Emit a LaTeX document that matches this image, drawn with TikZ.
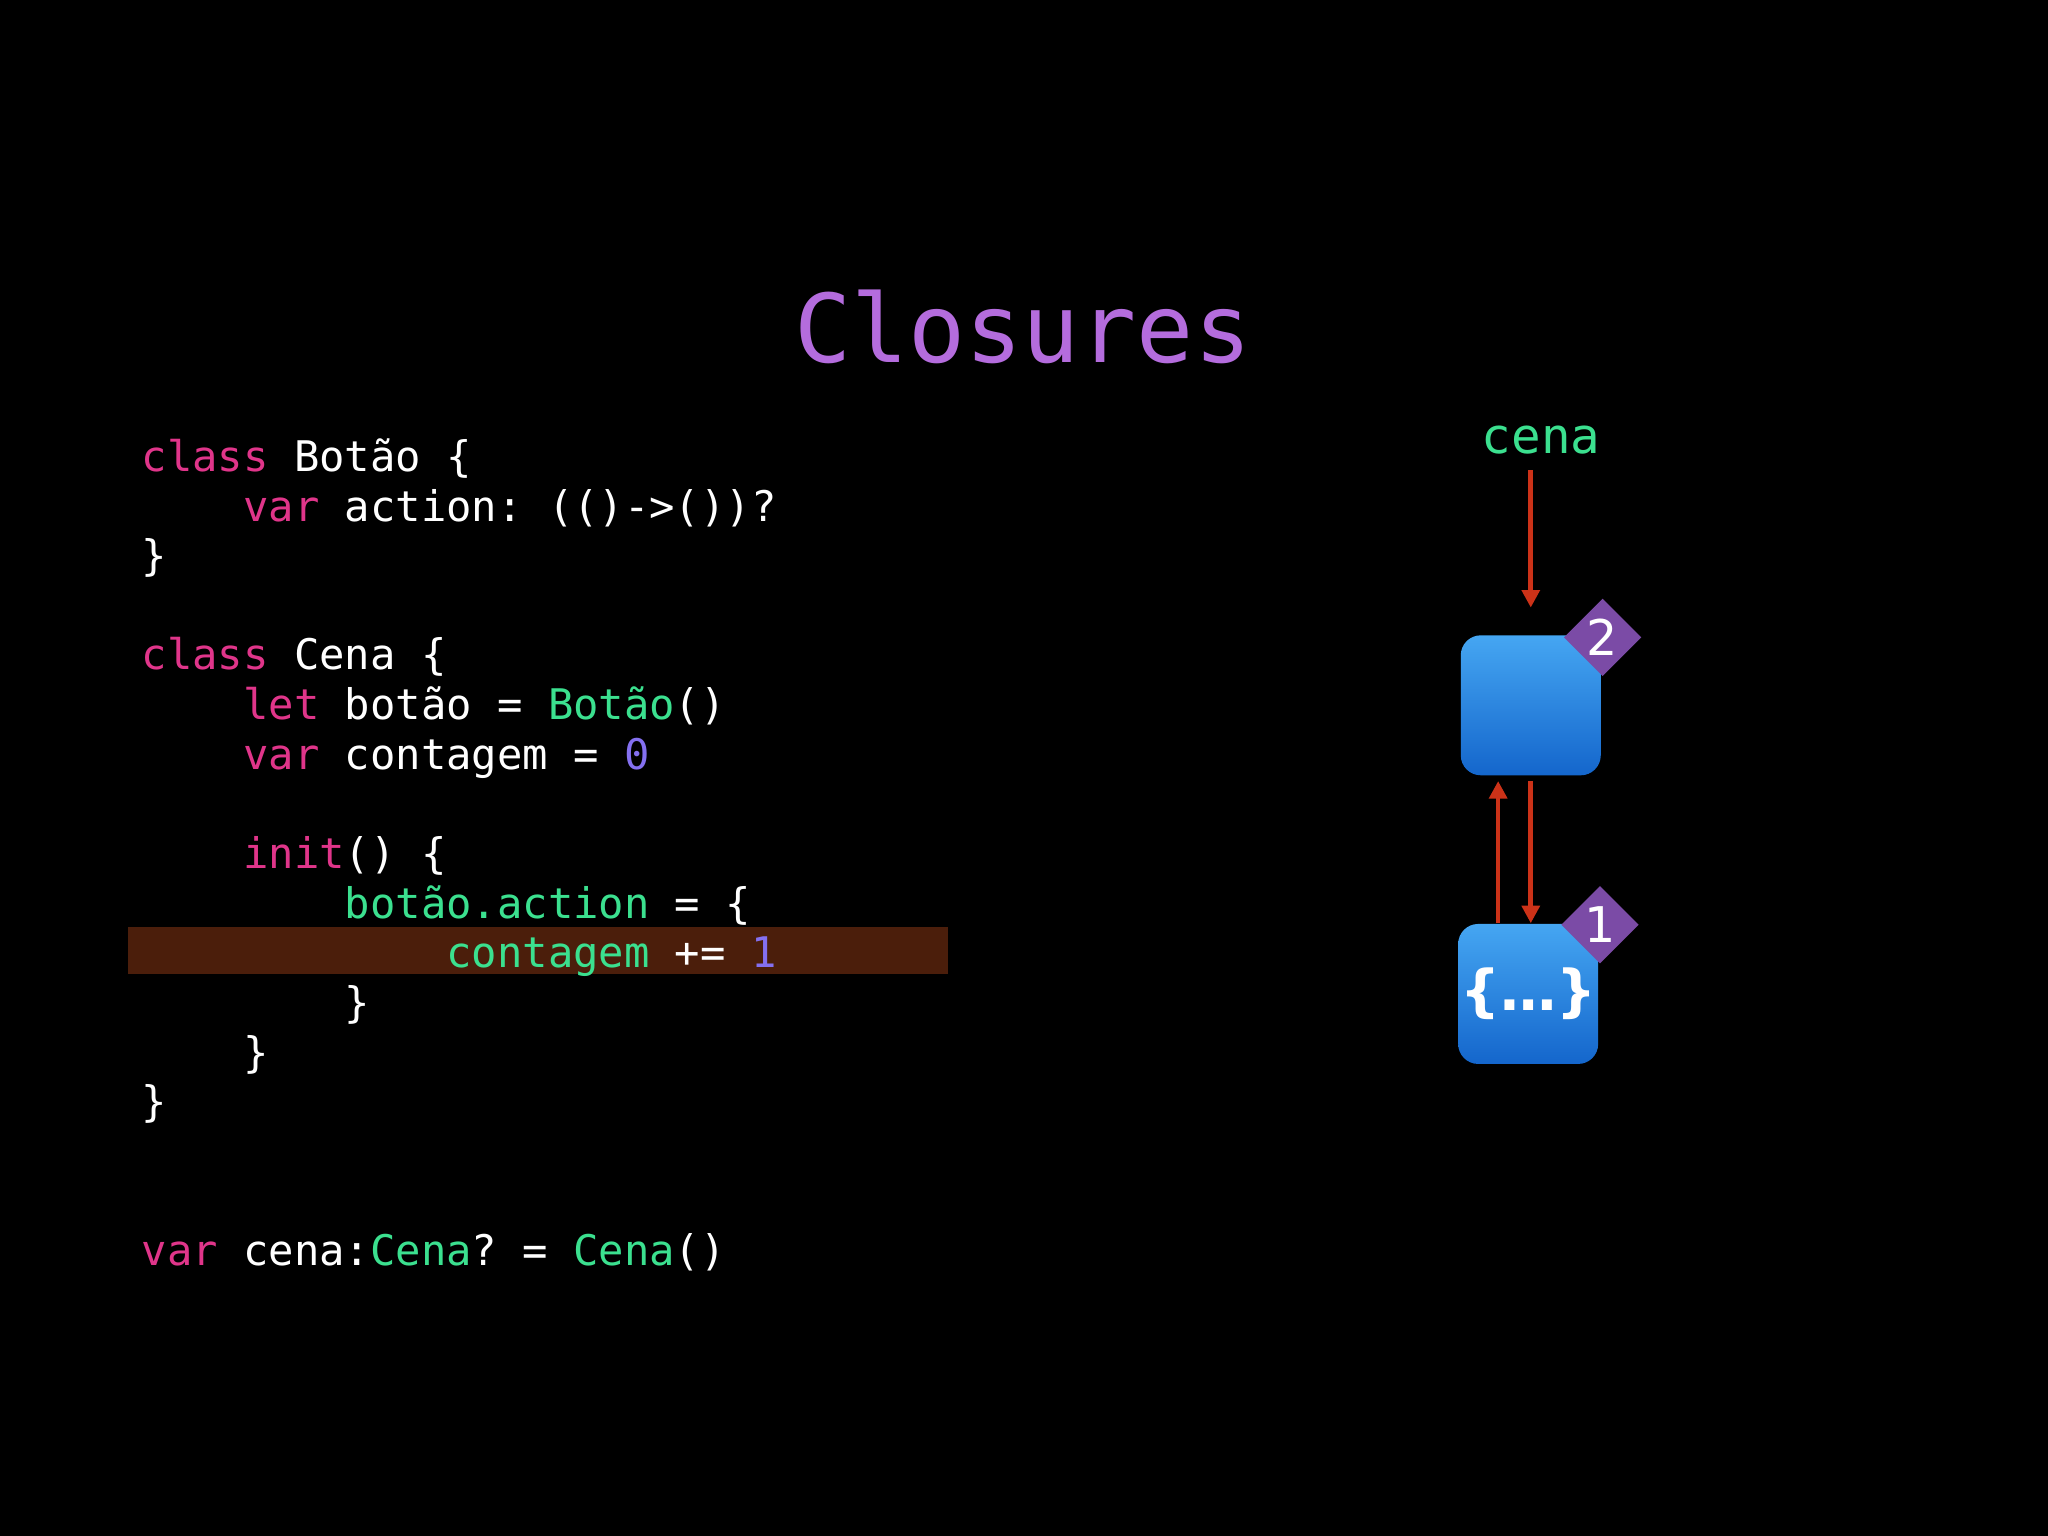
\documentclass[tikz,border=0pt]{standalone}
\usepackage{fontspec}
\setmainfont{DejaVu Sans}
\setmonofont{DejaVu Sans Mono}
\usetikzlibrary{shapes.geometric,arrows.meta}
\definecolor{kw}{HTML}{E0358A}
\definecolor{ty}{HTML}{3BE08F}
\definecolor{nm}{HTML}{8470F0}
\definecolor{ttl}{HTML}{B46CDD}
\definecolor{arr}{HTML}{CC3218}
\definecolor{badge}{HTML}{7B4BA6}
\definecolor{hl}{HTML}{4B1E0B}
\definecolor{btop}{HTML}{45A6F2}
\definecolor{bbot}{HTML}{1466CC}
\newcommand{\kw}[1]{\textcolor{kw}{#1}}
\newcommand{\ty}[1]{\textcolor{ty}{#1}}
\newcommand{\nm}[1]{\textcolor{nm}{#1}}
\begin{document}
\begin{tikzpicture}[x=0.013061cm,y=-0.013061cm,
  code/.style={anchor=mid west,inner sep=0pt,text=white,font=\ttfamily\fontsize{12}{14}\selectfont},
  obj/.style={rounded corners=0.2cm,minimum width=1.4cm,minimum height=1.4cm,top color=btop,bottom color=bbot,inner sep=0pt},
  bdg/.style={diamond,fill=badge,minimum width=0.78cm,minimum height=0.78cm,inner sep=0pt,text=white,font=\fontsize{14}{16}\selectfont},
  ar/.style={draw=arr,line width=1.3pt,-{Triangle[length=5pt,width=5pt]}}]
\fill[black] (0,0) rectangle (1568,1176);
\useasboundingbox (0,0) rectangle (1568,1176);
\fill[hl] (98,710) rectangle (726,746);
\node[text=ttl,font=\ttfamily\fontsize{27}{30}\selectfont] (title) at (783,250) {Closures};
\begin{scope}[yshift=-0.06cm]
\node[code] (l1) at (108,349) {\kw{class} Botão \{};
\node[code] (l2) at (108,387) {\phantom{xxxx}\kw{var} action: (()->())?};
\node[code] (l3) at (108,425) {\}};
\node[code] (l4) at (108,501) {\kw{class} Cena \{};
\node[code] (l5) at (108,539) {\phantom{xxxx}\kw{let} botão = \ty{Botão}()};
\node[code] (l6) at (108,577) {\phantom{xxxx}\kw{var} contagem = \nm{0}};
\node[code] (l7) at (108,653) {\phantom{xxxx}\kw{init}() \{};
\node[code] (l8) at (108,691) {\phantom{xxxxxxxx}\ty{botão.action} = \{};
\node[code] (l9) at (108,729) {\phantom{xxxxxxxxxxxx}\ty{contagem} += \nm{1}};
\node[code] (l10) at (108,767) {\phantom{xxxxxxxx}\}};
\node[code] (l11) at (108,805) {\phantom{xxxx}\}};
\node[code] (l12) at (108,843) {\}};
\node[code] (l13) at (108,957) {\kw{var} cena:\ty{Cena}? = \ty{Cena}()};
\end{scope}
\node[text=ty,font=\ttfamily\fontsize{14}{16}\selectfont] (cena) at (1180,337) {cena};
\node[obj] (b2) at (1172,540) {};
\node[obj,text=white,font=\bfseries\fontsize{16}{20}\selectfont] (b1) at (1170,761) {\{…\}};
\node[bdg] (d2) at (1227,488) {2};
\node[bdg] (d1) at (1225,708) {1};
\coordinate (c0) at (1172,360);
\draw[ar] (c0) -- ([yshift=0.27cm]b2.north);
\draw[ar] ([xshift=-0.3cm]b1.north) -- ([xshift=-0.3cm,yshift=-0.05cm]b1.north |- b2.south);
\draw[ar] ([yshift=-0.05cm]b2.south) -- (b2.south |- b1.north);
\end{tikzpicture}
\end{document}
